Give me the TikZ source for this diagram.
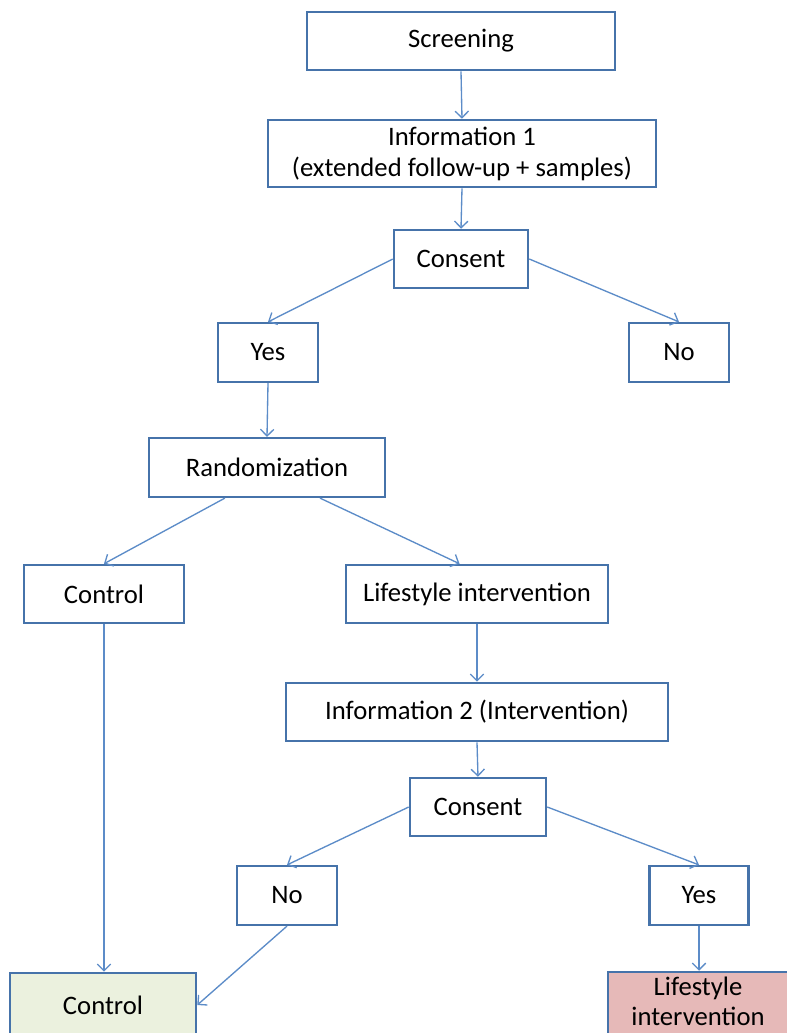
\documentclass[tikz,border=0pt]{standalone}
\usepackage{fontspec}
\setmainfont{Carlito}
\usetikzlibrary{arrows.meta}
\definecolor{boxblue}{RGB}{70,115,170}
\definecolor{arrowblue}{RGB}{92,140,200}
\definecolor{ctrlgreen}{RGB}{235,241,222}
\definecolor{lifepink}{RGB}{230,185,184}
\tikzset{
	flowbox/.style={draw=boxblue, line width=1.9pt, fill=white, inner sep=0pt, align=center, font=\fontsize{20}{23.25}\selectfont},
	flowarrow/.style={draw=arrowblue, line width=1pt, -{Straight Barb[length=5pt,width=10pt]}},
}

\begin{document}
\begin{tikzpicture}[x=0.75pt, y=-0.75pt]
			%%%%% START %%%%%
			
			\clip (0, 0) rectangle (787, 1033);
			\fill[white] (0, 0) rectangle (787, 1033);
			
			\node[flowbox, minimum width=231pt, minimum height=43.5pt] (screen) at (461, 41) {Screening};
			\node[flowbox, minimum width=291pt, minimum height=50.25pt] (info1) at (462, 153.5) {Information 1\\(extended follow-up + samples)};
			\node[flowbox, minimum width=100.5pt, minimum height=43.5pt] (cons1) at (461, 259) {Consent};
			
			\node[flowbox, minimum width=75pt, minimum height=44pt] (yes1) at (268, 352.5) {Yes};
			\node[flowbox, minimum width=75pt, minimum height=44pt] (no1) at (679, 352.5) {No};
			
			\node[flowbox, minimum width=177pt, minimum height=44pt] (rand) at (267, 467.5) {Randomization};
			
			\node[flowbox, minimum width=120pt, minimum height=43.5pt] (ctrl1) at (104, 594) {Control};
			\node[flowbox, minimum width=196.5pt, minimum height=43.5pt] (life1) at (477, 594) {Lifestyle intervention};
			
			\node[flowbox, minimum width=286.5pt, minimum height=43.5pt] (info2) at (477, 712) {Information 2 (Intervention)};
			\node[flowbox, minimum width=102pt, minimum height=43.5pt] (cons2) at (478, 807) {Consent};
			
			\node[flowbox, minimum width=75pt, minimum height=44pt] (no2) at (287, 895.5) {No};
			\node[flowbox, minimum width=74pt, minimum height=44pt] (yes2) at (699, 895.5) {Yes};
			
			\node[flowbox, fill=ctrlgreen, minimum width=139.5pt, minimum height=48pt] (ctrl2) at (103, 1005) {Control};
			\node[flowbox, fill=lifepink, minimum width=135pt, minimum height=48pt] (life2) at (698, 1004) {};
			\node[font=\fontsize{20}{22.5}\selectfont, align=center, inner sep=0pt] (life2txt) at (698, 1001) {Lifestyle\\intervention};
			
			\draw[flowarrow] (screen.south) -- (info1.north);
			\draw[flowarrow] (info1.south) -- (cons1.north);
			\draw[flowarrow] (cons1.west) -- (yes1.north);
			\draw[flowarrow] (cons1.east) -- (no1.north);
			\draw[flowarrow] (yes1.south) -- (rand.north);
			\draw[flowarrow] (rand.216) -- (ctrl1.north);
			\draw[flowarrow] (rand.330) -- (life1.120);
			\draw[flowarrow] (ctrl1.south) -- (ctrl2.north -| ctrl1.south);
			\draw[flowarrow] (life1.south) -- (info2.north);
			\draw[flowarrow] (info2.south) -- (cons2.north);
			\draw[flowarrow] (cons2.west) -- (no2.north);
			\draw[flowarrow] (cons2.east) -- (yes2.north);
			\draw[flowarrow] (no2.south) -- (ctrl2.east);
			\draw[flowarrow] (yes2.south) -- (life2.north -| yes2.south);
			
			%%%%% END %%%%%
\end{tikzpicture}
\end{document}
